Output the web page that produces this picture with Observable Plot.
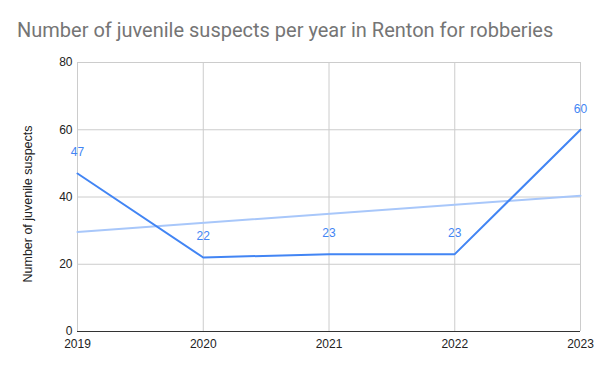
<!DOCTYPE html>
<html>
<head>
<meta charset="utf-8">
<script src="https://cdn.jsdelivr.net/npm/d3@7"></script>
<script src="https://cdn.jsdelivr.net/npm/@observablehq/plot@0.6"></script>
<style>
  html, body { margin: 0; padding: 0; background: #fff; }
  #wrap { position: relative; width: 600px; height: 371px; }
  #title { position: absolute; left: 17px; top: 18px; font-family: Roboto, sans-serif; font-size: 20px; color: #757575; white-space: nowrap; }
</style>
</head>
<body>
<div id="wrap"><div id="title">Number of juvenile suspects per year in Renton for robberies</div></div>
<script>
const years = [2019, 2020, 2021, 2022, 2023];
const suspects = [47, 22, 23, 23, 60];
const yTicks = [0, 20, 40, 60, 80];
const yLabel = "Number of juvenile suspects";

const data = years.map((y, i) => ({year: y, value: suspects[i]}));

const chart = Plot.plot({
  width: 600,
  height: 371,
  marginLeft: 77,
  marginRight: 20,
  marginTop: 62,
  marginBottom: 40,
  style: {fontFamily: "'Liberation Sans', Arial, sans-serif", fontSize: "12px", color: "#222", background: "transparent"},
  x: {domain: [2019, 2023], label: null},
  y: {domain: [0, 80], label: null},
  marks: [
    Plot.gridY(yTicks.filter(d => d > 0), {stroke: "#cccccc", strokeOpacity: 1}),
    Plot.gridX(years.slice(1), {stroke: "#cccccc", strokeOpacity: 1}),
    Plot.ruleX([2019], {stroke: "#cccccc"}),
    Plot.linearRegressionY(data, {x: "year", y: "value", ci: 0, stroke: "#a8c7fa", strokeWidth: 2}),
    Plot.line(data, {x: "year", y: "value", stroke: "#4285f4", strokeWidth: 2}),
    Plot.text(data, {x: "year", y: "value", text: d => String(d.value), dy: -21, fill: "#4285f4", fontSize: 12}),
    Plot.ruleY([0], {stroke: "#333333", strokeWidth: 1}),
    Plot.axisX({ticks: years, tickFormat: d => String(d), tickSize: 0, tickPadding: 8, label: null}),
    Plot.axisY({ticks: yTicks, tickSize: 0, tickPadding: 5, label: null}),
    Plot.text([yLabel], {frameAnchor: "left", textAnchor: "middle", dx: -50, dy: 7, rotate: -90, text: d => d, fontSize: 12.5, fill: "#222"})
  ]
});
document.getElementById("wrap").appendChild(chart);
</script>
</body>
</html>
